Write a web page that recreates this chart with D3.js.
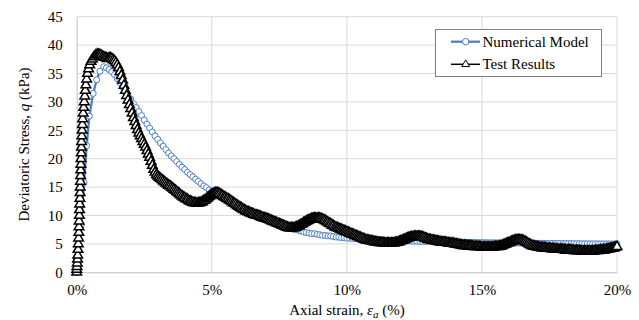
<!DOCTYPE html>
<html><head><meta charset="utf-8">
<script src="https://cdn.jsdelivr.net/npm/d3@7"></script>
<style>body{margin:0;background:#fff}svg{display:block}</style>
</head><body>
<script>
// ---- data ----
const yTicks = [0,5,10,15,20,25,30,35,40,45];
const xTicks = [0,5,10,15,20];
const seriesNames = ["Numerical Model","Test Results"];

const numStrain = [0,0.16,0.27,0.37,0.47,0.61,0.74,0.86,1.0,1.1,1.2,1.3,1.4,1.5,1.6,1.7,1.8,1.9,
2.0,2.1,2.2,2.3,2.4,2.5,2.6,2.7,2.8,2.9,3.0,3.1,3.2,3.3,3.4,3.5,3.6,3.7,3.8,3.9,
4.0,4.1,4.2,4.3,4.4,4.5,4.6,4.7,4.8,4.9,5.0,5.1,5.2,5.3,5.4,5.5,5.6,5.7,5.8,5.9,
6.0,6.1,6.2,6.3,6.4,6.5,6.6,6.7,6.8,6.9,7.0,7.1,7.2,7.3,7.4,7.5,7.6,7.7,7.8,7.9,
8.0,8.1,8.2,8.3,8.4,8.5,8.6,8.7,8.8,8.9,9.0,9.1,9.2,9.3,9.4,9.5,9.6,9.7,9.8,9.9,
10.0,10.1,10.2,10.3,10.4,10.5,10.6,10.7,10.8,10.9,11.0,11.1,11.2,11.3,11.4,11.5,11.6,11.7,11.8,11.9,
12.0,12.1,12.2,12.3,12.4,12.5,12.6,12.7,12.8,12.9,13.0,13.1,13.2,13.3,13.4,13.5,13.6,13.7,13.8,13.9,
14.0,14.1,14.2,14.3,14.4,14.5,14.6,14.7,14.8,14.9,15.0,15.1,15.2,15.3,15.4,15.5,15.6,15.7,15.8,15.9,
16.0,16.1,16.2,16.3,16.4,16.5,16.6,16.7,16.8,16.9,17.0,17.1,17.2,17.3,17.4,17.5,17.6,17.7,17.8,17.9,
18.0,18.1,18.2,18.3,18.4,18.5,18.6,18.7,18.8,18.9,19.0,19.1,19.2,19.3,19.4,19.5,19.6,19.7,19.8,19.9,20.0];
const numQ = [0,8.2,15.8,22.3,27.5,31.5,33.9,35.4,36.2,36.0,35.7,35.3,34.8,34.1,33.4,32.6,31.8,31.1,
30.5,29.7,29.0,28.3,27.6,26.8,26.1,25.4,24.7,24.0,23.4,22.8,22.2,21.6,21.0,20.5,20.0,19.5,19.0,18.5,
18.1,17.6,17.2,16.8,16.4,16.0,15.6,15.2,14.9,14.5,14.2,13.9,13.6,13.3,13.0,12.8,12.5,12.3,12.0,11.8,
11.6,11.4,11.1,10.9,10.7,10.5,10.3,10.1,9.9,9.7,9.5,9.3,9.1,9.0,8.8,8.6,8.5,8.3,8.1,7.9,
7.6,7.5,7.4,7.3,7.1,7.0,6.9,6.8,6.8,6.7,6.6,6.5,6.5,6.4,6.4,6.3,6.2,6.2,6.1,6.1,
6.0,6.0,5.97,5.94,5.91,5.88,5.85,5.82,5.79,5.76,5.73,5.71,5.69,5.67,5.65,5.63,5.61,5.59,5.57,5.55,
5.53,5.52,5.51,5.50,5.49,5.48,5.47,5.46,5.45,5.44,5.43,5.42,5.41,5.40,5.39,5.38,5.37,5.36,5.35,5.34,
5.33,5.32,5.31,5.30,5.29,5.28,5.27,5.26,5.25,5.24,5.23,5.22,5.21,5.2,5.2,5.19,5.19,5.18,5.18,5.17,
5.17,5.16,5.16,5.15,5.15,5.14,5.14,5.13,5.13,5.12,5.12,5.11,5.11,5.10,5.10,5.09,5.09,5.08,5.08,5.07,
5.07,5.06,5.06,5.05,5.05,5.04,5.04,5.03,5.03,5.02,5.02,5.02,5.01,5.01,5.01,5.0,5.0,5.0,5.0,5.0,5.0];

const testStrain = [0,0,0.01,0.02,0.03,0.04,0.05,0.06,0.07,0.08,0.085,0.09,0.1,0.105,0.11,0.12,0.125,0.13,0.14,0.145,
0.15,0.155,0.16,0.17,0.175,0.18,0.19,0.2,0.21,0.22,0.24,0.26,0.28,0.3,0.32,0.34,0.37,0.4,0.44,0.48,0.53,0.58,0.64,0.7,0.76,0.8,
0.85,0.9,0.95,
1.0,1.05,1.1,1.15,1.2,1.25,1.3,1.35,1.4,1.45,1.5,1.55,1.6,1.65,1.7,1.75,1.8,1.85,1.9,1.95,
2.0,2.05,2.1,2.15,2.2,2.25,2.3,2.35,2.4,2.45,2.5,2.55,2.6,2.65,2.7,2.75,2.8,2.85,2.9,2.95,
3.0,3.05,3.1,3.15,3.2,3.25,3.3,3.35,3.4,3.45,3.5,3.55,3.6,3.65,3.7,3.75,3.8,3.85,3.9,3.95,
4.0,4.05,4.1,4.15,4.2,4.25,4.3,4.35,4.4,4.45,4.5,4.55,4.6,4.65,4.7,4.75,4.8,4.85,4.9,4.95,
5.0,5.05,5.1,5.15,5.2,5.25,5.3,5.35,5.4,5.45,5.5,5.55,5.6,5.65,5.7,5.75,5.8,5.85,5.9,5.95,
6.0,6.05,6.1,6.15,6.2,6.25,6.3,6.35,6.4,6.45,6.5,6.55,6.6,6.65,6.7,6.75,6.8,6.85,6.9,6.95,
7.0,7.05,7.1,7.15,7.2,7.25,7.3,7.35,7.4,7.45,7.5,7.55,7.6,7.65,7.7,7.75,7.8,7.85,7.9,7.95,
8.0,8.05,8.1,8.15,8.2,8.25,8.3,8.35,8.4,8.45,8.5,8.55,8.6,8.65,8.7,8.75,8.8,8.85,8.9,8.95,
9.0,9.05,9.1,9.15,9.2,9.25,9.3,9.35,9.4,9.45,9.5,9.55,9.6,9.65,9.7,9.75,9.8,9.85,9.9,9.95,
10.0,10.05,10.1,10.15,10.2,10.25,10.3,10.35,10.4,10.45,10.5,10.55,10.6,10.65,10.7,10.75,10.8,10.85,10.9,10.95,
11.0,11.05,11.1,11.15,11.2,11.25,11.3,11.35,11.4,11.45,11.5,11.55,11.6,11.65,11.7,11.75,11.8,11.85,11.9,11.95,
12.0,12.05,12.1,12.15,12.2,12.25,12.3,12.35,12.4,12.45,12.5,12.55,12.6,12.65,12.7,12.75,12.8,12.85,12.9,12.95,
13.0,13.05,13.1,13.15,13.2,13.25,13.3,13.35,13.4,13.45,13.5,13.55,13.6,13.65,13.7,13.75,13.8,13.85,13.9,13.95,
14.0,14.05,14.1,14.15,14.2,14.25,14.3,14.35,14.4,14.45,14.5,14.55,14.6,14.65,14.7,14.75,14.8,14.85,14.9,14.95,
15.0,15.05,15.1,15.15,15.2,15.25,15.3,15.35,15.4,15.45,15.5,15.55,15.6,15.65,15.7,15.75,15.8,15.85,15.9,15.95,
16.0,16.05,16.1,16.15,16.2,16.25,16.3,16.35,16.4,16.45,16.5,16.55,16.6,16.65,16.7,16.75,16.8,16.85,16.9,16.95,
17.0,17.05,17.1,17.15,17.2,17.25,17.3,17.35,17.4,17.45,17.5,17.55,17.6,17.65,17.7,17.75,17.8,17.85,17.9,17.95,
18.0,18.05,18.1,18.15,18.2,18.25,18.3,18.35,18.4,18.45,18.5,18.55,18.6,18.65,18.7,18.75,18.8,18.85,18.9,18.95,
19.0,19.05,19.1,19.15,19.2,19.25,19.3,19.35,19.4,19.45,19.5,19.55,19.6,19.65,19.7,19.75,19.8,19.85,19.9,19.95,
20.0];
const testQ = [0,0.5,1,1.6,2.3,3,4,5,6,7,8,9,10,11,12,13,14,15,16,17,
18,19,20,21,22,23,24,25,26,27,28,29,30,31,32,33,34,35,35.8,36.5,37.1,37.5,37.9,38.2,38.4,38.3,
38.3,38.2,38.0,
37.9,37.8,37.7,37.6,37.7,37.7,37.6,37.4,37.2,36.9,36.5,36.0,35.3,34.6,33.8,32.9,32.0,31.1,30.3,29.5,
28.8,28.0,27.2,26.5,25.8,25.1,24.5,24.0,23.5,23.0,22.5,22.0,21.4,20.8,20.2,19.5,18.8,18.1,17.6,17.2,
16.9,16.7,16.5,16.3,16.1,15.9,15.7,15.5,15.3,15.2,15.0,14.8,14.6,14.4,14.2,14.0,13.8,13.6,13.4,13.2,
13.1,12.9,12.8,12.6,12.5,12.4,12.3,12.2,12.2,12.1,12.2,12.2,12.3,12.4,12.6,12.7,12.9,13.1,13.3,13.5,
13.7,13.8,13.9,14.0,14.0,13.9,13.8,13.6,13.5,13.3,13.2,13.0,12.9,12.7,12.6,12.4,12.2,12.1,11.9,11.7,
11.6,11.4,11.3,11.1,11.0,10.8,10.7,10.6,10.5,10.4,10.3,10.2,10.1,10.0,10.0,9.9,9.8,9.7,9.6,9.5,
9.5,9.4,9.3,9.2,9.1,9.0,8.9,8.8,8.7,8.6,8.5,8.4,8.3,8.2,8.1,8.0,7.9,7.8,7.8,7.8,
7.8,7.8,7.9,8.0,8.1,8.2,8.4,8.5,8.7,8.8,9.0,9.1,9.2,9.3,9.4,9.5,9.5,9.5,9.5,9.5,
9.5,9.4,9.3,9.2,9.1,8.9,8.8,8.6,8.5,8.3,8.2,8.0,7.9,7.8,7.7,7.6,7.5,7.4,7.3,7.2,
7.1,7.0,6.9,6.8,6.7,6.6,6.5,6.4,6.3,6.2,6.1,6.0,5.9,5.8,5.7,5.65,5.6,5.55,5.5,5.45,
5.4,5.35,5.3,5.25,5.2,5.2,5.2,5.15,5.1,5.1,5.1,5.1,5.1,5.1,5.1,5.15,5.2,5.25,5.3,5.4,
5.5,5.6,5.7,5.8,5.9,6.0,6.1,6.15,6.2,6.25,6.3,6.3,6.3,6.3,6.3,6.25,6.2,6.1,6.0,5.9,
5.8,5.75,5.7,5.65,5.6,5.55,5.5,5.45,5.4,5.35,5.3,5.3,5.3,5.25,5.2,5.15,5.1,5.1,5.1,5.05,
5.0,4.95,4.9,4.85,4.8,4.75,4.7,4.7,4.7,4.65,4.6,4.6,4.6,4.55,4.5,4.5,4.5,4.5,4.5,4.45,
4.4,4.4,4.4,4.4,4.4,4.4,4.4,4.4,4.4,4.45,4.5,4.5,4.5,4.55,4.6,4.7,4.8,4.9,5.0,5.1,
5.2,5.3,5.4,5.5,5.6,5.65,5.7,5.7,5.7,5.65,5.6,5.5,5.4,5.25,5.1,4.95,4.8,4.7,4.6,4.55,
4.5,4.45,4.4,4.35,4.3,4.3,4.3,4.25,4.2,4.2,4.2,4.15,4.1,4.1,4.1,4.05,4.0,4.0,4.0,4.0,
4.0,3.95,3.9,3.9,3.9,3.9,3.9,3.85,3.8,3.8,3.8,3.8,3.8,3.75,3.7,3.7,3.7,3.7,3.7,3.7,
3.7,3.7,3.7,3.75,3.8,3.8,3.8,3.85,3.9,3.9,3.9,3.95,4.0,4.05,4.1,4.15,4.2,4.25,4.3,4.4,
4.5];

// ---- chart ----
const W = 639, H = 320;
const m = {left: 76.7, right: 639 - 617, top: 16.7, bottom: 320 - 272.3};
const svg = d3.select("body").append("svg").attr("width", W).attr("height", H);
const x = d3.scaleLinear().domain([0, 20]).range([m.left, W - m.right]);
const y = d3.scaleLinear().domain([0, 45]).range([H - m.bottom, m.top]);
const font = "'Times New Roman','Liberation Serif',serif";
const blue = "#4a7ec8";

// gridlines
svg.append("g").selectAll("line").data(yTicks.filter(d => d > 0)).join("line")
  .attr("x1", x(0)).attr("x2", x(20)).attr("y1", d => y(d)).attr("y2", d => y(d))
  .attr("stroke", "#d9d9d9").attr("stroke-width", 1);
svg.append("g").selectAll("line").data(xTicks.filter(d => d > 0)).join("line")
  .attr("y1", y(0)).attr("y2", y(45)).attr("x1", d => x(d)).attr("x2", d => x(d))
  .attr("stroke", "#d9d9d9").attr("stroke-width", 1);

// axes
const yAxis = d3.axisLeft(y).tickValues(yTicks).tickSize(0).tickPadding(14).tickFormat(d => d);
const gy = svg.append("g").attr("transform", `translate(${x(0)},0)`).call(yAxis);
gy.attr("font-family", font).attr("font-size", 15);
gy.select(".domain").attr("stroke", "#bfbfbf");
gy.selectAll("text").attr("fill", "#000");
const xAxis = d3.axisBottom(x).tickValues(xTicks).tickSize(0).tickPadding(12).tickFormat(d => d + "%");
const gx = svg.append("g").attr("transform", `translate(0,${y(0)})`).call(xAxis);
gx.attr("font-family", font).attr("font-size", 15);
gx.select(".domain").attr("stroke", "#bfbfbf");
gx.selectAll("text").attr("fill", "#000");

// series
const numData = numStrain.map((s, i) => [s, numQ[i]]);
const testData = testStrain.map((s, i) => [s, testQ[i]]);
const line = d3.line().x(d => x(d[0])).y(d => y(d[1]));

svg.append("path").datum(numData).attr("d", line).attr("fill", "none")
  .attr("stroke", blue).attr("stroke-width", 2.25);
svg.append("g").selectAll("circle").data(numData).join("circle")
  .attr("cx", d => x(d[0])).attr("cy", d => y(d[1])).attr("r", 3)
  .attr("fill", "#fff").attr("stroke", blue).attr("stroke-width", 1);

svg.append("path").datum(testData).attr("d", line).attr("fill", "none")
  .attr("stroke", "#000").attr("stroke-width", 1.5);
const tri = d3.symbol().type(d3.symbolTriangle).size(40);
svg.append("g").selectAll("path").data(testData).join("path")
  .attr("d", tri).attr("transform", d => `translate(${x(d[0])},${y(d[1])})`)
  .attr("fill", "#fff").attr("stroke", "#000").attr("stroke-width", 1.5);

// axis titles
const yt = svg.append("text").attr("font-family", font).attr("font-size", 15).attr("fill", "#000")
  .attr("text-anchor", "middle").attr("transform", `translate(29,${(y(0) + y(45)) / 2}) rotate(-90)`);
yt.append("tspan").text("Deviatoric Stress, ");
yt.append("tspan").attr("font-style", "italic").text("q");
yt.append("tspan").text(" (kPa)");

const xt = svg.append("text").attr("font-family", font).attr("font-size", 15).attr("fill", "#000")
  .attr("text-anchor", "middle").attr("x", 347).attr("y", 315);
xt.append("tspan").text("Axial strain, ");
xt.append("tspan").attr("font-style", "italic").text("ε");
xt.append("tspan").attr("font-style", "italic").attr("font-size", 11).attr("dy", 3).text("a");
xt.append("tspan").attr("dy", -3).text(" (%)");

// legend
const lg = svg.append("g");
lg.append("rect").attr("x", 435.5).attr("y", 29.5).attr("width", 166).attr("height", 47)
  .attr("fill", "#fff").attr("stroke", "#808080").attr("stroke-width", 1);
const items = [{name: seriesNames[0], color: blue, type: "circle", yy: 41.7},
               {name: seriesNames[1], color: "#000", type: "tri", yy: 64.3}];
items.forEach(it => {
  lg.append("line").attr("x1", 451).attr("x2", 480).attr("y1", it.yy).attr("y2", it.yy)
    .attr("stroke", it.color).attr("stroke-width", it.type === "circle" ? 2.25 : 1.5);
  if (it.type === "circle") {
    lg.append("circle").attr("cx", 465.7).attr("cy", it.yy).attr("r", 3.2)
      .attr("fill", "#fff").attr("stroke", blue).attr("stroke-width", 1);
  } else {
    lg.append("path").attr("d", d3.symbol().type(d3.symbolTriangle).size(26))
      .attr("transform", `translate(465.7,${it.yy})`)
      .attr("fill", "#fff").attr("stroke", "#000").attr("stroke-width", 1);
  }
  lg.append("text").attr("x", 482.5).attr("y", it.yy + 5).attr("font-family", font)
    .attr("font-size", 15).attr("fill", "#000").text(it.name);
});
</script>
</body></html>
